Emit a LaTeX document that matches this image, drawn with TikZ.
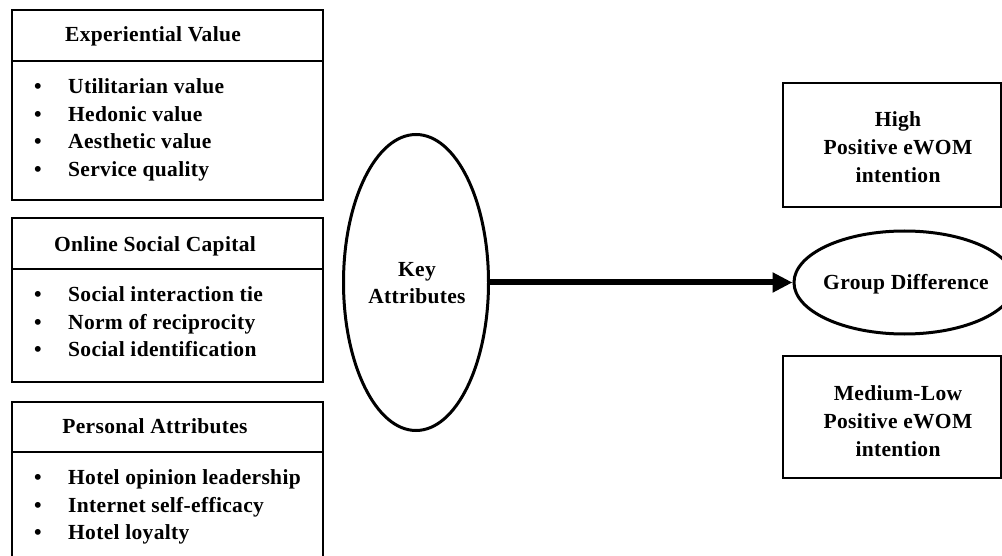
\documentclass[tikz,border=0pt]{standalone}
\usepackage{fontspec}
\setmainfont{Liberation Serif}[LetterSpace=1.5]
\usetikzlibrary{arrows.meta,shapes.geometric}
\begin{document}
\begin{tikzpicture}[x=1pt,y=-1pt,
  txt/.style={font=\bfseries\fontsize{21.5}{27.6}\selectfont, inner sep=0pt},
  frame/.style={draw=black, line width=2.4pt},
  oval/.style={draw=black, ellipse, line width=3pt, inner sep=0pt},
  bigarrow/.style={line width=6pt, -{Triangle[length=20pt,width=19pt]}}]
\useasboundingbox (0,0) rectangle (1002,556);
\clip (0,0) rectangle (1002,556);

% Experiential Value box
\draw[frame] (12,10) rectangle (323,200);
\draw[frame] (12,61) -- (323,61);
\node[txt, anchor=base] (evh) at (153,42) {Experiential Value};
\foreach \t [count=\i] in {Utilitarian value, Hedonic value, Aesthetic value, Service quality} {
  \node[txt, anchor=base west] (ev\i) at (34,{93.6+27.6*(\i-1)}) {\makebox[34pt][l]{•}\t};
}

% Online Social Capital box
\draw[frame] (12,218) rectangle (323,382);
\draw[frame] (12,269) -- (323,269);
\node[txt, anchor=base] (osch) at (155,252) {Online Social Capital};
\foreach \t [count=\i] in {Social interaction tie, Norm of reciprocity, Social identification} {
  \node[txt, anchor=base west] (osc\i) at (34,{301.6+27.6*(\i-1)}) {\makebox[34pt][l]{•}\t};
}

% Personal Attributes box (runs past the bottom edge)
\draw[frame] (12,600) -- (12,402) -- (323,402) -- (323,600);
\draw[frame] (12,452) -- (323,452);
\node[txt, anchor=base] (pah) at (155,433.6) {Personal Attributes};
\foreach \t [count=\i] in {Hotel opinion leadership, Internet self-efficacy, Hotel loyalty} {
  \node[txt, anchor=base west] (pa\i) at (34,{484.6+27.6*(\i-1)}) {\makebox[34pt][l]{•}\t};
}

% Key Attributes ellipse
\node[oval, minimum width=145pt, minimum height=296pt] (key) at (416,282.5) {};
\node[txt, anchor=base] (keyt1) at (417,277) {Key};
\node[txt, anchor=base] (keyt2) at (417,304) {Attributes};

% Group Difference ellipse
\node[oval, minimum width=221pt, minimum height=103pt] (grp) at (904.5,282.5) {};
\node[txt, anchor=base] (grpt) at (906,290) {Group Difference};

% Arrow
\draw[bigarrow] (key.east) -- (grp.west);

% High box
\draw[frame] (783,83) rectangle (1001,207);
\node[txt, anchor=base] (hi1) at (898,126.7) {High};
\node[txt, anchor=base] (hi2) at (898,155) {Positive eWOM};
\node[txt, anchor=base] (hi3) at (898,183) {intention};

% Medium-Low box
\draw[frame] (783,356) rectangle (1001,478);
\node[txt, anchor=base] (ml1) at (898,400) {Medium-Low};
\node[txt, anchor=base] (ml2) at (898,428) {Positive eWOM};
\node[txt, anchor=base] (ml3) at (898,456) {intention};
\end{tikzpicture}
\end{document}
